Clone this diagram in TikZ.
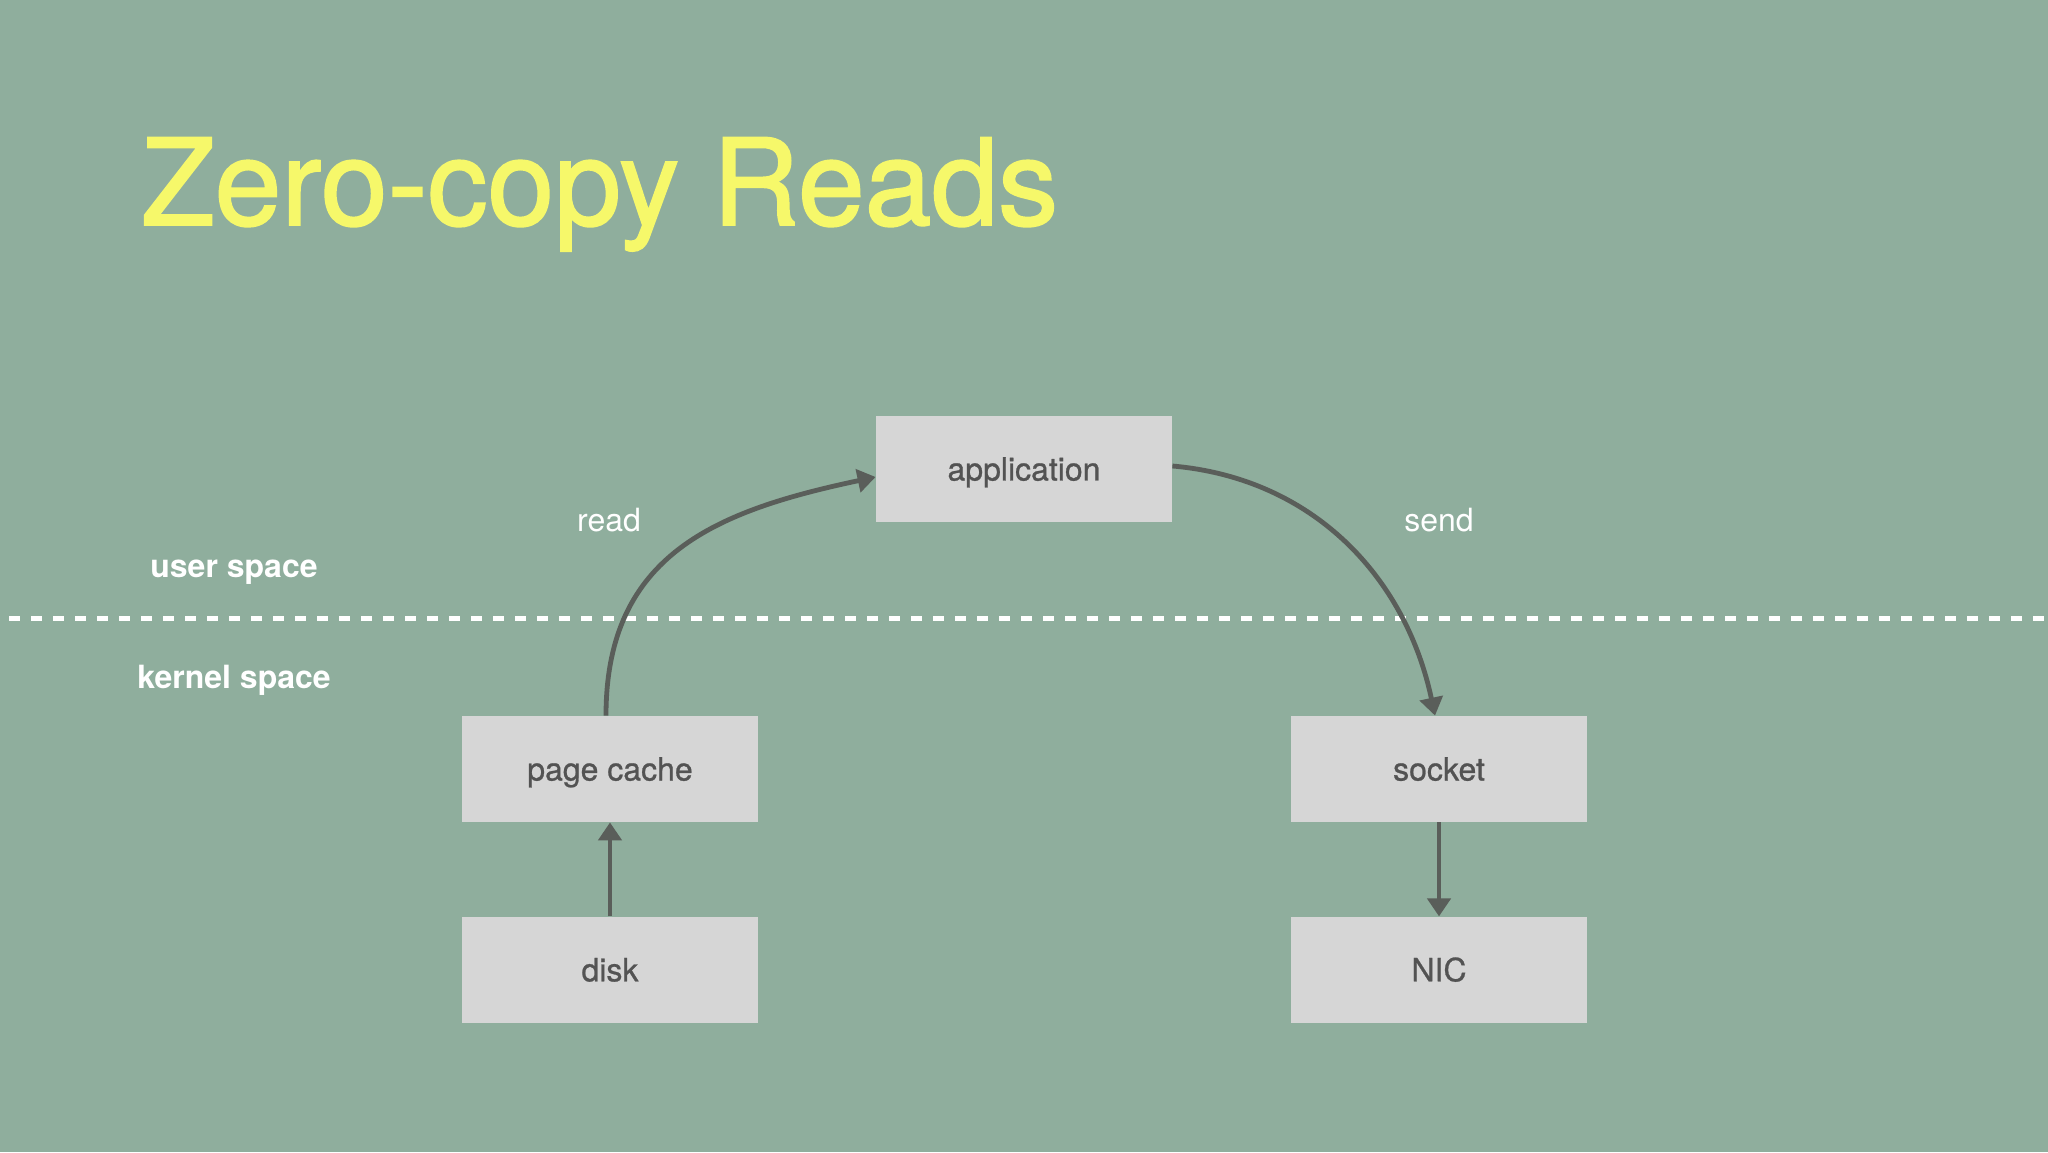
\documentclass[tikz,border=0pt]{standalone}
\usepackage{fontspec}
\setmainfont{TeX Gyre Heros}
\newfontfamily\titlefont{TeX Gyre Heros}[BoldFont=TeX Gyre Heros, BoldFeatures={FakeBold=1.5}]
\newfontfamily\boxfont{TeX Gyre Heros}[BoldFont=TeX Gyre Heros, BoldFeatures={FakeBold=0.8}]
\usetikzlibrary{arrows.meta, positioning}

\definecolor{slidebg}{HTML}{8FAE9D}
\definecolor{boxgray}{HTML}{D6D6D6}
\definecolor{boxtext}{HTML}{535353}
\definecolor{arrowgray}{HTML}{5A5E5A}
\definecolor{titleyellow}{HTML}{F6F86A}

\begin{document}
\begin{tikzpicture}[
        x=0.5pt, y=0.5pt,
        inner sep=0pt,
        node distance=47pt,
        box/.style={fill=boxgray, text=boxtext, minimum width=148pt, minimum height=53pt,
            text height=11.5pt, text depth=0pt, font=\boxfont\bfseries\fontsize{16}{19}\selectfont},
        space/.style={text=white, font=\fontsize{16}{19}\selectfont\bfseries},
        lbl/.style={text=white, font=\fontsize{16}{19}\selectfont},
        post/.style={draw=arrowgray, line width=2.4pt, -{Triangle[length=9pt, width=11.5pt]}},
        split/.style={draw=white, line width=2.5pt, dash pattern=on 5.5pt off 5.5pt},
    ]
        \fill[slidebg] (0,0) rectangle (2048,1152);
        \useasboundingbox (0,0) rectangle (2048,1152);

        \node[anchor=base west, text=titleyellow, font=\titlefont\bfseries\fontsize{60}{72}\selectfont]
            (title) at (141,927) {Zero-copy Reads};

        % user / kernel boundary
        \coordinate (split-west) at (9,533);
        \coordinate (split-east) at (2048,533);
        \draw[split] (split-west) -- (split-east);
        \node[space] (user) at (234,580) {user space};
        \node[space] (kernel) at (234,472) {kernel space};

        \node[box] (application) at (1024,683) {application};
        \node[box] (pagecache) at (610,383) {page cache}
            ([xshift=-2pt]pagecache.north) edge[post, out=90, in=192, looseness=1.15] ([yshift=-4pt]application.west);
        \node[box, below=of pagecache] (disk) {disk}
            edge[post] (pagecache);
        \node[box] (socket) at (1439,383) {socket}
            ([yshift=1.5pt]application.east) edge[post, out=-5, in=102] ([xshift=-2pt]socket.north);
        \node[box, below=of socket] (nic) {NIC}
            (socket) edge[post] (nic);

        \node[lbl] (read) at (609,632) {read};
        \node[lbl] (send) at (1439,632) {send};
    \end{tikzpicture}
\end{document}
